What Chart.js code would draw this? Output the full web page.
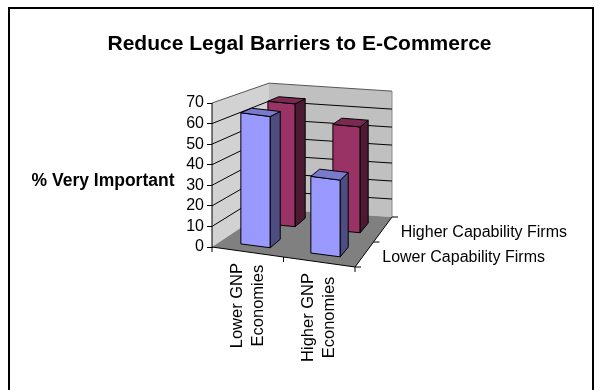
<!DOCTYPE html>
<html>
<head>
<meta charset="utf-8">
<script src="https://cdn.jsdelivr.net/npm/chart.js@4.4.1/dist/chart.umd.min.js"></script>
<style>
  html, body { margin: 0; padding: 0; background: #fff; }
  canvas { display: block; }
</style>
</head>
<body>
<canvas id="chart" width="599" height="390"></canvas>
<script>
var economies = [['Lower GNP', 'Economies'], ['Higher GNP', 'Economies']];
var firmGroups = ['Lower Capability Firms', 'Higher Capability Firms'];
var lowerCapability = [65, 38];
var higherCapability = [65, 56];
var valueTicks = [0, 10, 20, 30, 40, 50, 60, 70];

var FONT = "'Liberation Sans', Arial, sans-serif";

// floor corners, measured from the front-left corner of the plot
var floorShape = {
    frontDrop: 20,
    backLeft: [57, -38],
    backRight: [180, -30],
    backScale: 0.874,
    barWidth: 0.42,
    barDepth: 0.2
};

function lerp(a, b, t) { return [a[0] + (b[0] - a[0]) * t, a[1] + (b[1] - a[1]) * t]; }

// maps the unit square (u across, w into depth) onto a 4-corner floor
function quad(fl, fr, br, bl) {
    return function (u, w) {
        return lerp(lerp(fl, fr, u), lerp(bl, br, u), w);
    };
}

function poly(ctx, pts, fill, stroke) {
    ctx.beginPath();
    ctx.moveTo(pts[0][0], pts[0][1]);
    for (var i = 1; i < pts.length; i++) ctx.lineTo(pts[i][0], pts[i][1]);
    ctx.closePath();
    if (fill) { ctx.fillStyle = fill; ctx.fill(); }
    if (stroke) { ctx.strokeStyle = stroke; ctx.stroke(); }
}

function line(ctx, pts, color) {
    ctx.beginPath();
    ctx.moveTo(pts[0][0], pts[0][1]);
    for (var i = 1; i < pts.length; i++) ctx.lineTo(pts[i][0], pts[i][1]);
    ctx.strokeStyle = color;
    ctx.stroke();
}

var scene = {
    id: 'scene',
    beforeDraw: function (chart) {
        var ctx = chart.ctx;
        ctx.save();
        ctx.fillStyle = '#fff';
        ctx.fillRect(0, 0, chart.width, chart.height);
        ctx.strokeStyle = '#000';
        ctx.lineWidth = 2;
        ctx.strokeRect(9, 8, 584, 400);
        ctx.restore();
    },
    beforeDatasetsDraw: function (chart) {
        var ctx = chart.ctx, xs = chart.scales.x, ys = chart.scales.y;
        var L = xs.left, R = xs.right, W = R - L, B = ys.getPixelForValue(0);
        var top = ys.max;
        var floor = quad([L, B], [R, B + floorShape.frontDrop],
            [L + floorShape.backRight[0], B + floorShape.backRight[1]],
            [L + floorShape.backLeft[0], B + floorShape.backLeft[1]]);
        function P(u, w, v) {
            var f = floor(u, w);
            var h = (B - ys.getPixelForValue(v)) * (1 + (floorShape.backScale - 1) * w);
            return [f[0], f[1] - h];
        }

        ctx.save();
        ctx.lineWidth = 1;
        ctx.lineJoin = 'round';

        // walls and floor
        poly(ctx, [P(0, 1, 0), P(1, 1, 0), P(1, 1, top), P(0, 1, top)], '#c0c0c0');
        poly(ctx, [P(0, 0, 0), P(0, 1, 0), P(0, 1, top), P(0, 0, top)], '#d2d2d2');
        poly(ctx, [P(0, 0, 0), P(1, 0, 0), P(1, 1, 0), P(0, 1, 0)], '#808080');
        line(ctx, [P(1, 1, 0), P(1, 1, top)], '#8a8a8a');

        ys.ticks.forEach(function (t) {
            if (t.value === 0) return;
            line(ctx, [P(0, 0, t.value), P(0, 1, t.value), P(1, 1, t.value)], t.value === top ? '#555' : '#000');
        });

        // axes with their tick marks
        line(ctx, [P(0, 0, top), P(0, 0, 0), P(1, 0, 0), P(1, 1, 0)], '#000');
        var nCat = chart.data.labels.length, nSer = chart.data.datasets.length;
        for (var i = 0; i <= nCat; i++) {
            var a = P(i / nCat, 0, 0);
            line(ctx, [a, [a[0], a[1] + 5]], '#000');
        }
        for (var j = 0; j <= nSer; j++) {
            var b = P(1, j / nSer, 0);
            line(ctx, [b, [b[0] + 6, b[1]]], '#000');
        }

        // bars, back row first
        var halfU = floorShape.barWidth / nCat / 2;
        var halfW = floorShape.barDepth / 2;
        for (var d = nSer - 1; d >= 0; d--) {
            var ds = chart.data.datasets[d];
            var wc = (d + 0.5) / nSer, w0 = wc - halfW, w1 = wc + halfW;
            ds.data.forEach(function (v, k) {
                var uc = (xs.getPixelForValue(k) - L) / W;
                var u0 = uc - halfU, u1 = uc + halfU;
                poly(ctx, [P(u0, w0, 0), P(u1, w0, 0), P(u1, w0, v), P(u0, w0, v)], ds.backgroundColor, '#000');
                poly(ctx, [P(u1, w0, 0), P(u1, w1, 0), P(u1, w1, v), P(u1, w0, v)], ds.sideColor, '#000');
                poly(ctx, [P(u0, w0, v), P(u1, w0, v), P(u1, w1, v), P(u0, w1, v)], ds.topColor, '#000');
            });
        }

        // category names hang below the front edge
        ctx.fillStyle = '#000';
        ctx.font = '16.5px ' + FONT;
        ctx.textAlign = 'center';
        ctx.textBaseline = 'middle';
        chart.data.labels.forEach(function (lines, k) {
            var uc = (xs.getPixelForValue(k) - L) / W;
            var p = P(uc, 0, 0);
            var len = Math.max.apply(null, lines.map(function (s) { return ctx.measureText(s).width; }));
            ctx.save();
            ctx.translate(p[0], p[1] + 11 + len / 2);
            ctx.rotate(-Math.PI / 2);
            lines.forEach(function (s, n) {
                ctx.fillText(s, 0, (n - (lines.length - 1) / 2) * 21);
            });
            ctx.restore();
        });

        // firm groups along the depth axis
        ctx.font = '16px ' + FONT;
        ctx.textAlign = 'left';
        chart.data.datasets.forEach(function (ds, d) {
            var p = P(1, (d + 0.5) / nSer, 0);
            ctx.fillText(ds.label, p[0] + 18, p[1] + 3);
        });

        ctx.font = 'bold 17.5px ' + FONT;
        ctx.textAlign = 'center';
        ctx.fillText('% Very Important', 103, 181);
        ctx.restore();
        return false;
    }
};

new Chart(document.getElementById('chart').getContext('2d'), {
    type: 'bar',
    data: {
        labels: economies,
        datasets: [{
            label: firmGroups[0],
            data: lowerCapability,
            backgroundColor: '#9999ff',
            sideColor: '#4d4d80',
            topColor: '#7a7acc'
        }, {
            label: firmGroups[1],
            data: higherCapability,
            backgroundColor: '#993366',
            sideColor: '#4d1a33',
            topColor: '#7a2952'
        }]
    },
    plugins: [scene],
    options: {
        responsive: false,
        animation: false,
        events: [],
        layout: { padding: { left: 0, top: 0, right: 0, bottom: 143 } },
        plugins: {
            legend: { display: false },
            tooltip: { enabled: false },
            title: {
                display: true,
                text: 'Reduce Legal Barriers to E-Commerce',
                color: '#000',
                font: { family: FONT, size: 21, weight: 'bold' },
                padding: { top: 32, bottom: 45.8 }
            }
        },
        scales: {
            x: { display: false },
            y: {
                min: valueTicks[0],
                max: valueTicks[valueTicks.length - 1],
                afterBuildTicks: function (scale) {
                    scale.ticks = valueTicks.map(function (v) { return { value: v }; });
                },
                afterFit: function (scale) { scale.width = 212; },
                ticks: { color: '#000', font: { family: FONT, size: 16 }, padding: 3, autoSkip: false },
                grid: { drawOnChartArea: false, tickLength: 5, color: '#000' },
                border: { color: '#000' }
            },
            // empty right-hand strip that holds the depth-axis labels
            side: {
                position: 'right',
                display: true,
                ticks: { display: false },
                grid: { display: false },
                border: { display: false },
                afterFit: function (scale) { scale.width = 244; }
            }
        }
    }
});
</script>
</body>
</html>
